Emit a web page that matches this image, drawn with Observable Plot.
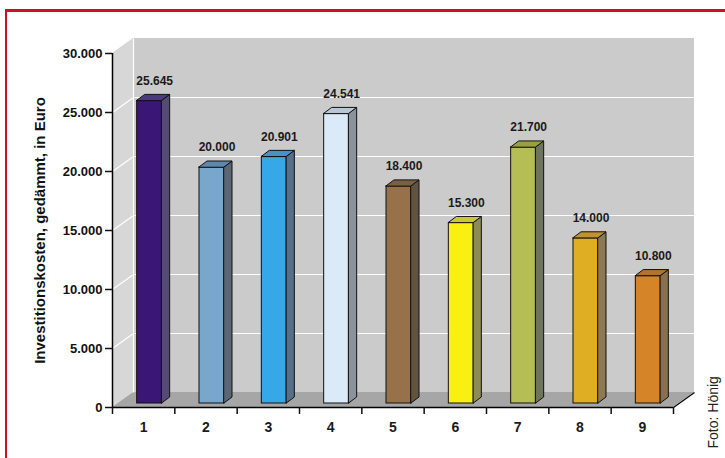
<!DOCTYPE html>
<html><head><meta charset="utf-8">
<script src="https://cdn.jsdelivr.net/npm/d3@7"></script>
<script src="https://cdn.jsdelivr.net/npm/@observablehq/plot@0.6"></script>
<style>
body{margin:0;background:#fff;}
#wrap{position:relative;width:725px;height:458px;overflow:hidden;}
#frame{position:absolute;left:5px;top:9px;right:-10px;bottom:-10px;border-top:3px solid #c8102e;border-left:2px solid #c8102e;}
#chart{position:absolute;left:0;top:0;}
</style></head><body>
<div id="wrap"><div id="frame"></div><div id="chart"></div></div>
<script>
const categories = ["1","2","3","4","5","6","7","8","9"];
const values = [25645, 20000, 20901, 24541, 18400, 15300, 21700, 14000, 10800];
const frontColors = ["#3a1777","#79a7cc","#36a8e8","#dbeaf8","#97714a","#f8f012","#b4be55","#e0ae22","#d68428"];
const sideColors  = ["#554b70","#5b6774","#576f88","#8c9299","#5f5444","#8c8c5a","#6f745c","#8c7a52","#8a7050"];
const topColors   = ["#4a3a82","#5e87ad","#4a8fc6","#b8c6d6","#7a6042","#c8c83c","#9aa040","#c09230","#b07430"];
const yTicks = [0, 5000, 10000, 15000, 20000, 25000, 30000];
const yLabel = "Investitionskosten, gedämmt, in Euro";
const credit = "Foto: Hönig";

const W = 725, H = 458, mL = 112, mR = 52, mT = 53, mB = 51;
const n = categories.length;
const yMax = 30000;
const pxX = (W - mL - mR) / n, pxY = (H - mT - mB) / yMax;
const ux = p => p / pxX, uy = p => p / pxY;
const wallDX = ux(21), wallDY = uy(15);
const barW = ux(25), barFX = ux(6), barFY = uy(4), barDX = ux(8), barDY = uy(6);

const fmt = d3.formatLocale({decimal: ",", thousands: ".", grouping: [3], currency: ["", "€"]}).format(",d");

const bars = values.map((v, i) => {
  const xl = i + 0.5 - barW / 2 + barFX;
  return {i, v, xl, xr: xl + barW, y0: barFY, y1: v + barFY,
    front: frontColors[i], side: sideColors[i], top: topColors[i],
    label: fmt(v), cx: xl + barW / 2 + ux(5)};
});
const sidePts = bars.flatMap(b => [
  {z: b.i, x: b.xr, y1: b.y0, y2: b.y1, fill: b.side},
  {z: b.i, x: b.xr + barDX, y1: b.y0 + barDY, y2: b.y1 + barDY, fill: b.side}
]);
const topPts = bars.flatMap(b => [
  {z: b.i, y: b.y1, x1: b.xl, x2: b.xr, fill: b.top},
  {z: b.i, y: b.y1 + barDY, x1: b.xl + barDX, x2: b.xr + barDX, fill: b.top}
]);
const sideWall = [{x: 0, y1: 0, y2: yMax}, {x: wallDX, y1: wallDY, y2: yMax + wallDY}];
const backWall = [{x1: wallDX, x2: n + wallDX, y1: wallDY, y2: yMax + wallDY}];
const floor = [{y: 0, x1: 0, x2: n}, {y: wallDY, x1: wallDX, x2: n + wallDX}];
const grid = yTicks.filter(v => v > 0 && v < yMax);

const chart = Plot.plot({
  width: W, height: H,
  marginLeft: mL, marginRight: mR, marginTop: mT, marginBottom: mB,
  x: {domain: [0, n]},
  y: {domain: [0, yMax]},
  color: {type: "identity"},
  style: {fontFamily: "'Liberation Sans', Arial, sans-serif", background: "transparent", overflow: "visible", color: "#111"},
  marks: [
    Plot.areaY(sideWall, {x: "x", y1: "y1", y2: "y2", fill: "#d7d7d7"}),
    Plot.rect(backWall, {x1: "x1", x2: "x2", y1: "y1", y2: "y2", fill: "#cbcbcb"}),
    Plot.areaX(floor, {y: "y", x1: "x1", x2: "x2", fill: "#a6a6a6"}),
    Plot.ruleY(grid, {y: d => d + wallDY, x1: wallDX, x2: n + wallDX, stroke: "white", strokeWidth: 1.2}),
    Plot.link(grid, {x1: 0, y1: d => d, x2: wallDX, y2: d => d + wallDY, stroke: "white", strokeWidth: 1.2}),
    Plot.link([0], {x1: wallDX, x2: wallDX, y1: wallDY, y2: yMax + wallDY, stroke: "white", strokeWidth: 1.2}),
    Plot.link([0], {x1: n, y1: 0, x2: n + wallDX, y2: wallDY, stroke: "black", strokeWidth: 1.2}),
    Plot.rect(bars, {x1: "xl", x2: "xr", y1: "y0", y2: "y1", fill: "front", stroke: "#111", strokeWidth: 1}),
    Plot.areaY(sidePts, {x: "x", y1: "y1", y2: "y2", z: "z", fill: "fill", stroke: "#111", strokeWidth: 1}),
    Plot.areaX(topPts, {y: "y", x1: "x1", x2: "x2", z: "z", fill: "fill", stroke: "#111", strokeWidth: 1}),
    Plot.text(bars, {x: "cx", y: "y1", text: "label", dy: -20, fontSize: 12, fontWeight: "bold", fill: "#1a1a1a"}),
    Plot.ruleX([0], {y1: 0, y2: yMax, stroke: "black", strokeWidth: 1.5}),
    Plot.ruleY([0], {x1: 0, x2: n, stroke: "black", strokeWidth: 1.5}),
    Plot.axisY(yTicks, {tickSize: 7, tickPadding: 3, tickFormat: fmt, fontSize: 13, fontWeight: "bold", label: null, strokeWidth: 1.5}),
    Plot.axisX(d3.range(n + 1), {tickSize: 7, tickFormat: () => "", label: null, strokeWidth: 1.5}),
    Plot.text(categories, {x: (d, i) => i + 0.5, y: () => 0, dy: 20, fontSize: 14, fontWeight: "bold", fill: "#1a1a1a"}),
    Plot.text([yLabel], {frameAnchor: "left", dx: -72, rotate: -90, textAnchor: "middle", fontSize: 15, fontWeight: "bold", fill: "#111"}),
    Plot.text([credit], {frameAnchor: "bottom-right", dx: 44, dy: 41, rotate: -90, textAnchor: "start", fontSize: 14, fill: "#222"})
  ]
});
document.getElementById("chart").appendChild(chart);
</script>
</body></html>
